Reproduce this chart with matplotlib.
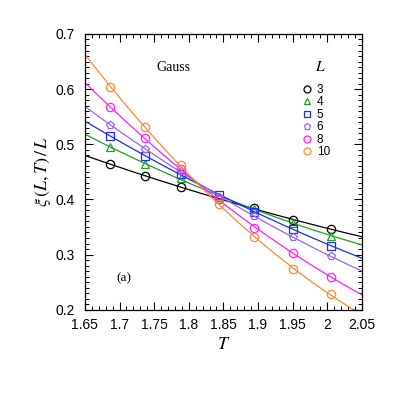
import numpy as np
import matplotlib
matplotlib.use("Agg")
import matplotlib.pyplot as plt
from matplotlib.ticker import MultipleLocator, FormatStrFormatter
from matplotlib.lines import Line2D

T = [1.686, 1.737, 1.789, 1.843, 1.894, 1.950, 2.006]
L_sizes = ["3", "4", "5", "6", "8", "10"]
xi_L3 = [0.464, 0.443, 0.422, 0.401, 0.384, 0.363, 0.346]
xi_L4 = [0.495, 0.465, 0.438, 0.405, 0.382, 0.358, 0.334]
xi_L5 = [0.515, 0.479, 0.446, 0.408, 0.378, 0.346, 0.316]
xi_L6 = [0.535, 0.492, 0.452, 0.405, 0.370, 0.331, 0.297]
xi_L8 = [0.567, 0.511, 0.455, 0.400, 0.349, 0.302, 0.260]
xi_L10 = [0.604, 0.532, 0.462, 0.392, 0.331, 0.274, 0.228]
series = [xi_L3, xi_L4, xi_L5, xi_L6, xi_L8, xi_L10]

colors = ["#000000", "#22a022", "#1a2cff", "#9a66ee", "#ff22ff", "#ff8833"]
markers = ["o", "^", "s", "p", "o", "o"]

plt.rcParams["font.family"] = "Liberation Serif"
plt.rcParams["mathtext.fontset"] = "stix"

fig = plt.figure(figsize=(3.95, 3.95), dpi=100)
ax = fig.add_axes([0.215, 0.216, 0.701, 0.698])

tt = np.linspace(1.65, 2.05, 200)
for y, c, m in zip(series, colors, markers):
    coef = np.polyfit(T, y, 2)
    ax.plot(tt, np.polyval(coef, tt), color=c, lw=0.9)
    ax.plot(T, y, ls="none", marker=m, ms=6, mfc="none", mec=c, mew=0.9)

ax.set_xlim(1.65, 2.05)
ax.set_ylim(0.2, 0.7)
ax.xaxis.set_major_locator(MultipleLocator(0.05))
ax.xaxis.set_minor_locator(MultipleLocator(0.01))
ax.yaxis.set_major_locator(MultipleLocator(0.1))
ax.yaxis.set_minor_locator(MultipleLocator(0.01))
ax.xaxis.set_major_formatter(plt.FuncFormatter(lambda v, p: f"{v:.2f}".rstrip("0").rstrip(".")))
ax.yaxis.set_major_formatter(FormatStrFormatter("%.1f"))
ax.tick_params(which="both", direction="in", top=True, right=True, labelsize=10)
ax.tick_params(which="major", length=6, width=0.8)
ax.tick_params(which="minor", length=3, width=0.7)
ax.tick_params(axis="x", which="major", pad=6)
ax.tick_params(axis="y", which="major", pad=7)
for lab in ax.get_xticklabels() + ax.get_yticklabels():
    lab.set_family("Liberation Sans")
for s in ax.spines.values():
    s.set_linewidth(0.9)

ax.set_xlabel(r"$T$", fontsize=13, labelpad=3)
ax.set_ylabel(r"$\xi\,(L,T)\,/\,L$", fontsize=13, labelpad=2)

ax.text(0.321, 0.877, "Gauss", transform=ax.transAxes, fontsize=10, ha="center", va="center")
ax.text(0.14, 0.115, "(a)", transform=ax.transAxes, fontsize=9.5, ha="center", va="center")
ax.text(0.85, 0.88, r"$L$", transform=ax.transAxes, fontsize=11, ha="center", va="center")

handles = [Line2D([], [], ls="none", marker=m, ms=5, mfc="none", mec=c, mew=0.9)
           for c, m in zip(colors, markers)]
leg = ax.legend(handles, L_sizes, loc="upper left", bbox_to_anchor=(0.765, 0.84),
                frameon=False, fontsize=8.5, handlelength=0.8, handletextpad=0.4,
                labelspacing=0.04, borderpad=0.0)
for t in leg.get_texts():
    t.set_family("Liberation Sans")

fig.savefig("out.png", dpi=100)
